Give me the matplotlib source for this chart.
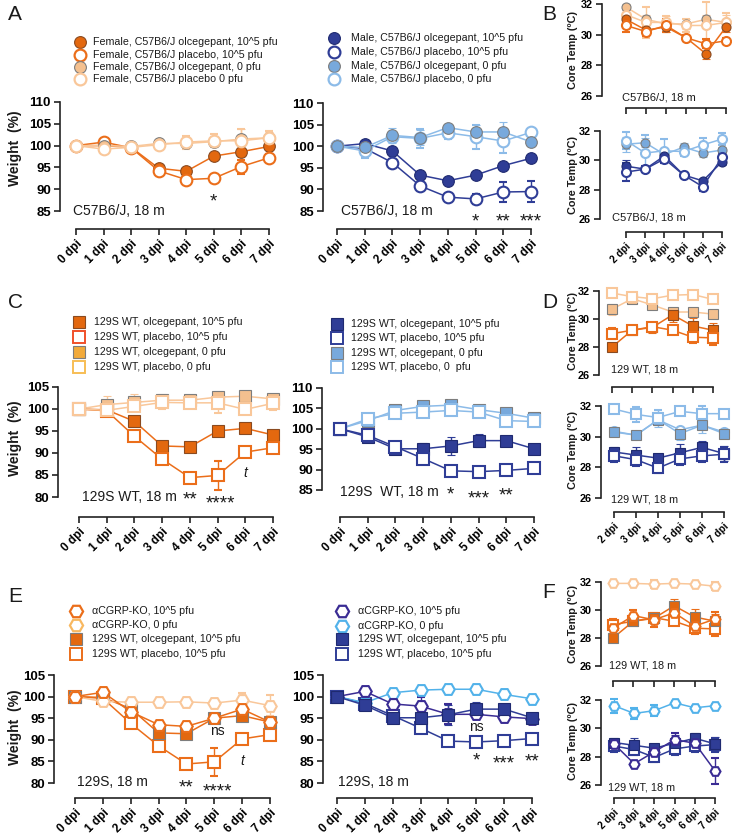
import matplotlib
matplotlib.use('Agg')
import matplotlib.pyplot as plt
from matplotlib.lines import Line2D
from matplotlib import transforms

plt.rcParams['font.family'] = ['Liberation Sans', 'DejaVu Sans']

W, H = 732, 840
fig = plt.figure(figsize=(W / 100, H / 100), dpi=100)

# ---------------- data ----------------
days_w = [0, 1, 2, 3, 4, 5, 6, 7]
days_t = [2, 3, 4, 5, 6, 7]
w_labels = ['0 dpi', '1 dpi', '2 dpi', '3 dpi', '4 dpi', '5 dpi', '6 dpi', '7 dpi']
t_labels = ['2 dpi', '3 dpi', '4 dpi', '5 dpi', '6 dpi', '7 dpi']

# A: C57B6/J weights
fem_olc = [100, 100, 99.6, 94.8, 94.1, 97.6, 98.6, 99.8]
fem_olc_e = [0, 0.3, 0.3, 0.5, 0.6, 0.5, 0.9, 0.6]
fem_pla = [100, 100.8, 99.5, 94.2, 92.2, 92.5, 95.2, 97.2]
fem_pla_e = [0, 0.3, 0.3, 0.5, 0.5, 0.6, 1.6, 0.8]
fem_olc0 = [100, 100, 99.8, 100.5, 100.5, 100.9, 101.5, 101.8]
fem_olc0_e = [0, 0.3, 0.3, 0.4, 0.8, 1.2, 2.4, 1.4]
fem_pla0 = [100, 99.2, 99.6, 100.2, 100.8, 101.1, 101.1, 101.8]
fem_pla0_e = [0, 0.4, 0.3, 0.5, 1.5, 1.5, 2.6, 1.6]

mal_olc = [100, 100.6, 98.9, 93.3, 92.0, 93.3, 95.5, 97.2]
mal_olc_e = [0, 0.4, 0.5, 0.5, 0.4, 0.5, 0.5, 0.5]
mal_pla = [100, 99.5, 96.2, 90.8, 88.2, 87.8, 89.4, 89.5]
mal_pla_e = [0, 0.4, 0.4, 0.5, 0.5, 1.2, 2.4, 2.4]
mal_olc0 = [100, 99.7, 102.5, 102.0, 104.3, 103.3, 103.3, 101.0]
mal_olc0_e = [0, 1.5, 1.8, 1.8, 0.8, 1.7, 2.2, 0.5]
mal_pla0 = [100, 98.9, 102.2, 101.8, 103.1, 102.2, 101.2, 103.2]
mal_pla0_e = [0, 1.6, 1.0, 2.2, 1.5, 2.8, 2.8, 0.5]

# B: C57B6/J core temps
fT_olc = [31.0, 30.3, 30.5, 29.8, 28.75, 30.5]
fT_olc_e = [0.3, 0.3, 0.3, 0.2, 0.35, 0.3]
fT_pla = [30.6, 30.2, 30.6, 29.8, 29.4, 29.6]
fT_pla_e = [0.4, 0.3, 0.4, 0.2, 0.3, 0.2]
fT_olc0 = [31.8, 31.0, 30.7, 30.7, 31.0, 30.8]
fT_olc0_e = [0.2, 0.3, 0.5, 0.3, 0.3, 0.5]
fT_pla0 = [31.3, 30.8, 30.8, 30.6, 30.6, 30.8]
fT_pla0_e = [0.4, 1.0, 0.4, 0.4, 1.5, 0.6]

mT_olc = [29.6, 29.4, 30.3, 29.0, 28.6, 29.9]
mT_olc_e = [0.4, 0.2, 0.3, 0.2, 0.2, 0.2]
mT_pla = [29.2, 29.4, 30.1, 29.0, 28.2, 30.2]
mT_pla_e = [0.6, 0.2, 0.3, 0.2, 0.3, 0.3]
mT_olc0 = [31.1, 31.2, 30.4, 30.9, 30.5, 30.7]
mT_olc0_e = [0.5, 0.3, 0.3, 0.3, 0.3, 0.2]
mT_pla0 = [31.35, 30.5, 30.65, 30.6, 31.05, 31.45]
mT_pla0_e = [0.6, 1.2, 0.8, 0.3, 0.5, 0.4]

# C: 129S WT weights
wf_olc = [100, 99.8, 97.2, 91.6, 91.4, 95.0, 95.6, 94.1]
wf_olc_e = [0, 0.4, 0.6, 0.6, 0.5, 0.5, 0.5, 0.5]
wf_pla = [100, 99.6, 93.8, 88.6, 84.4, 84.9, 90.2, 91.2]
wf_pla_e = [0, 0.4, 0.5, 0.5, 0.6, 3.2, 0.5, 0.6]
wf_olc0 = [100, 101.0, 101.5, 102.0, 102.0, 102.7, 102.9, 102.3]
wf_olc0_e = [0, 2.0, 2.0, 1.5, 0.8, 1.5, 0.6, 0.8]
wf_pla0 = [100, 99.7, 100.6, 101.5, 101.4, 101.4, 99.9, 101.3]
wf_pla0_e = [0, 0.5, 1.0, 1.5, 0.8, 2.2, 0.8, 1.5]

wm_olc = [100, 98.0, 95.1, 95.1, 95.8, 97.1, 97.1, 95.1]
wm_olc_e = [0, 0.6, 1.0, 1.5, 2.3, 1.6, 0.5, 0.4]
wm_pla = [100, 98.4, 95.6, 92.7, 89.7, 89.5, 89.8, 90.3]
wm_pla_e = [0, 0.4, 0.5, 0.5, 0.5, 0.5, 0.5, 0.5]
wm_olc0 = [100, 102.0, 104.5, 105.5, 105.8, 104.7, 103.8, 102.6]
wm_olc0_e = [0, 0.5, 0.5, 0.5, 0.5, 0.5, 0.5, 0.5]
wm_pla0 = [100, 102.4, 103.8, 104.1, 104.5, 104.1, 102.0, 101.8]
wm_pla0_e = [0, 0.5, 0.5, 0.5, 0.5, 0.5, 0.5, 0.5]

# D: 129S WT core temps
dT_pla0_f = [31.85, 31.6, 31.45, 31.7, 31.75, 31.4]
dT_pla0_f_e = [0.15, 0.15, 0.15, 0.15, 0.15, 0.15]
dT_olc0_f = [30.7, 31.45, 31.0, 30.5, 30.5, 30.35]
dT_olc0_f_e = [0.4, 0.2, 0.3, 0.3, 0.3, 0.3]
dT_olc_f = [28.0, 29.2, 29.4, 30.3, 29.5, 29.2]
dT_olc_f_e = [0.2, 0.2, 0.4, 0.5, 0.6, 0.5]
dT_pla_f = [28.95, 29.2, 29.45, 29.2, 28.7, 28.65]
dT_pla_f_e = [0.4, 0.2, 0.3, 0.3, 0.4, 0.5]

dT_pla0_m = [31.8, 31.45, 31.25, 31.65, 31.5, 31.5]
dT_pla0_m_e = [0.2, 0.5, 0.5, 0.2, 0.5, 0.2]
dT_olc0_m = [30.3, 30.1, 31.1, 30.2, 30.75, 30.2]
dT_olc0_m_e = [0.2, 0.2, 0.5, 0.4, 0.5, 0.3]
dT_circ_m = [30.35, 30.1, 31.1, 30.45, 30.75, 30.3]
dT_olc_m = [29.0, 28.8, 28.6, 28.95, 29.3, 28.9]
dT_olc_m_e = [0.3, 0.5, 0.3, 0.6, 0.4, 0.5]
dT_pla_m = [28.75, 28.5, 27.95, 28.55, 28.75, 28.85]
dT_pla_m_e = [0.4, 0.4, 0.3, 0.4, 0.4, 0.5]

# E: alphaCGRP-KO weights
ko_f = [100, 101.0, 96.5, 93.5, 93.1, 95.0, 97.1, 94.1]
ko_f_e = [0, 0.4, 0.5, 0.5, 0.5, 0.5, 0.5, 0.5]
ko0_f = [100, 98.9, 98.7, 98.7, 98.8, 98.5, 99.2, 97.9]
ko0_f_e = [0, 0.4, 0.4, 0.4, 0.4, 0.4, 1.6, 2.5]
ko_m = [100, 101.2, 98.3, 97.8, 95.9, 95.9, 95.3, 94.9]
ko_m_e = [0, 0.4, 0.5, 2.0, 2.3, 0.5, 0.5, 0.5]
ko0_m = [100, 98.6, 100.9, 101.5, 101.7, 101.7, 100.5, 99.5]
ko0_m_e = [0, 0.3, 0.3, 0.3, 0.3, 0.3, 0.3, 0.3]

# F: alphaCGRP-KO core temps
koT_f0 = [31.9, 31.9, 31.85, 31.9, 31.85, 31.7]
koT_f0_e = [0.1, 0.1, 0.3, 0.1, 0.1, 0.3]
koT_f = [28.7, 29.6, 29.3, 29.8, 28.85, 29.35]
koT_f_e = [0.4, 0.4, 0.5, 0.4, 0.5, 0.5]
koT_m0 = [31.6, 31.05, 31.25, 31.8, 31.45, 31.6]
koT_m0_e = [0.5, 0.4, 0.4, 0.1, 0.1, 0.1]
koT_m = [28.9, 27.5, 28.35, 29.2, 28.95, 27.0]
koT_m_e = [0.3, 0.2, 0.3, 0.5, 0.3, 0.9]

# ---------------- colours ----------------
OR = '#EB6E1A'
OR_F = '#E3680F'
OR_RED = '#F0502A'
PE = '#F9C79A'
PE_F = '#F4C08F'
GOLD = '#F2AA3A'
NV = '#2F3D96'
LB = '#8CBBE8'
LB_F = '#78A9DC'
IND = '#3A2C94'
SKY = '#52B2EA'
GR = '#7d7d7d'
TXT = '#1a1a1a'


def make_ax(left, right, top, bot, ylim, yticks, x0, x1, xspine, xfirst, xlast,
            xlabels, xfs, yfs, tl=4.5):
    ax = fig.add_axes([left / W, 1 - bot / H, (right - left) / W, (bot - top) / H])
    ax.set_ylim(*ylim)
    s = (x1 - x0) / (xlast - xfirst)
    ax.set_xlim(xfirst - (x0 - left) / s, xlast + (right - x1) / s)
    for sp in ['top', 'right']:
        ax.spines[sp].set_visible(False)
    for sp in ['left', 'bottom']:
        ax.spines[sp].set_linewidth(1.2)
        ax.spines[sp].set_color('#222222')
    ax.spines['left'].set_bounds(*ylim)
    ax.spines['bottom'].set_position(('outward', (xspine - bot) * 0.72))
    ax.spines['bottom'].set_bounds(xfirst, xlast)
    ax.set_yticks(yticks)
    ax.set_yticklabels([str(v) for v in yticks], fontsize=yfs, fontweight='bold')
    ax.set_xticks(list(range(xfirst, xlast + 1)))
    if xlabels:
        ax.set_xticklabels(xlabels, rotation=45, ha='right', rotation_mode='anchor',
                           fontsize=xfs, fontweight='bold')
    else:
        ax.set_xticklabels([])
    ax.tick_params(width=1.2, length=tl, color='#222222', pad=2)
    ax.patch.set_alpha(0)
    return ax


def series(ax, x, y, e, marker, mfc, mec, lc, ms, mew=1.5, lw=1.1, z=3):
    c = ax.errorbar(x, y, yerr=e, color=lc, marker=marker, mfc=mfc, mec=mec, ms=ms,
                    mew=mew, lw=lw, capsize=2.8, elinewidth=1.0, capthick=1.0, zorder=z)
    for a in c.get_children():
        a.set_clip_on(False)
    c.lines[0].set_clip_on(False)


def ftext(x, y, s, **kw):
    fig.text(x / W, 1 - y / H, s, **kw)


def star(ax, x, yc, s, fs=13.5):
    tr = transforms.offset_copy(ax.transData, fig=fig, x=0, y=-0.58 * fs, units='points')
    ax.text(x, yc, s, transform=tr, ha='center', va='baseline', fontsize=fs, color=TXT,
            clip_on=False)


def small(ax, x, yc, s, fs=10, style='normal'):
    tr = transforms.offset_copy(ax.transData, fig=fig, x=0, y=-0.3 * fs, units='points')
    ax.text(x, yc, s, transform=tr, ha='center', va='baseline', fontsize=fs, color=TXT,
            style=style, clip_on=False)


def legend(xm, xt, ys, entries, fs=7.7):
    for y, (mk, mfc, mec, ms, mew, lab) in zip(ys, entries):
        fig.add_artist(Line2D([xm / W], [1 - y / H], marker=mk, mfc=mfc, mec=mec, ms=ms,
                              mew=mew, ls='none', transform=fig.transFigure))
        ftext(xt, y, lab, fontsize=fs, va='center', ha='left', color=TXT)


CMS = 8.4   # weight circle size
SMS = 8.0   # weight square size
HMS = 9.0   # weight hexagon size
TMS = 6.5   # temp marker size
THS = 7.2   # temp hexagon size
WY = 9.5    # weight tick label size
WX = 8.5    # weight x tick label size
TY = 7.8    # temp tick label size
TX = 7.2    # temp x tick label size

# ================= Panel A =================
axA1 = make_ax(60, 278, 102, 211, (85, 110), [85, 90, 95, 100, 105, 110],
               76, 269, 229, 0, 7, w_labels, WX, WY)
series(axA1, days_w, fem_olc, fem_olc_e, 'o', OR_F, '#8a4a20', OR, CMS, 0.8)
series(axA1, days_w, fem_pla, fem_pla_e, 'o', 'white', OR, OR, CMS)
series(axA1, days_w, fem_olc0, fem_olc0_e, 'o', PE_F, GR, PE, CMS, 0.8)
series(axA1, days_w, fem_pla0, fem_pla0_e, 'o', 'white', PE, PE, CMS)
star(axA1, 5, 88.6, '*')

axA2 = make_ax(323, 540, 103, 211, (85, 110), [85, 90, 95, 100, 105, 110],
               337, 531, 229, 0, 7, w_labels, WX, WY)
series(axA2, days_w, mal_olc, mal_olc_e, 'o', NV, '#1f2a70', NV, CMS, 0.8)
series(axA2, days_w, mal_pla, mal_pla_e, 'o', 'white', NV, NV, CMS)
series(axA2, days_w, mal_pla0, mal_pla0_e, 'o', 'white', LB, LB, CMS)
series(axA2, days_w, mal_olc0, mal_olc0_e, 'o', LB_F, GR, LB, CMS, 0.8)
star(axA2, 5, 84, '*')
star(axA2, 6, 84, '**')
star(axA2, 7, 84, '***')

ftext(73, 211, 'C57B6/J, 18 m', fontsize=10, va='center', color=TXT)
ftext(341, 211, 'C57B6/J, 18 m', fontsize=10, va='center', color=TXT)

legend(80, 93, [42, 55, 67, 79], [
    ('o', OR_F, '#8a4a20', 8.5, 0.8, 'Female, C57B6/J olcegepant, 10^5 pfu'),
    ('o', 'white', OR, 8.5, 1.6, 'Female, C57B6/J placebo, 10^5 pfu'),
    ('o', PE_F, GR, 8.5, 0.8, 'Female, C57B6/J olcegepant, 0 pfu'),
    ('o', 'white', PE, 8.5, 1.6, 'Female, C57B6/J placebo 0 pfu')])
legend(334, 351, [38, 52, 66, 79], [
    ('o', NV, '#1f2a70', 8.5, 0.8, 'Male, C57B6/J olcegepant, 10^5 pfu'),
    ('o', 'white', NV, 8.5, 1.6, 'Male, C57B6/J placebo, 10^5 pfu'),
    ('o', LB_F, GR, 8.5, 0.8, 'Male, C57B6/J olcegepant, 0 pfu'),
    ('o', 'white', LB, 8.5, 1.6, 'Male, C57B6/J placebo, 0 pfu')])

# ================= Panel B =================
axB1 = make_ax(602, 730, 4, 96, (26, 32), [26, 28, 30, 32],
               626, 726, 108, 2, 7, None, TX, TY)
series(axB1, days_t, fT_olc0, fT_olc0_e, 'o', PE_F, GR, PE, TMS, 0.8)
series(axB1, days_t, fT_pla0, fT_pla0_e, 'o', 'white', PE, PE, TMS)
series(axB1, days_t, fT_olc, fT_olc_e, 'o', OR_F, '#8a4a20', OR, TMS, 0.8)
series(axB1, days_t, fT_pla, fT_pla_e, 'o', 'white', OR, OR, TMS)

axB2 = make_ax(600, 730, 131, 219, (26, 32), [26, 28, 30, 32],
               626, 722, 232, 2, 7, t_labels, TX, TY)
series(axB2, days_t, mT_olc0, mT_olc0_e, 'o', LB_F, GR, LB, TMS, 0.8)
series(axB2, days_t, mT_pla0, mT_pla0_e, 'o', 'white', LB, LB, TMS)
series(axB2, days_t, mT_olc, mT_olc_e, 'o', NV, '#1f2a70', NV, TMS, 0.8)
series(axB2, days_t, mT_pla, mT_pla_e, 'o', 'white', NV, NV, TMS)

ftext(622, 97, 'C57B6/J, 18 m', fontsize=8, va='center', color=TXT)
ftext(612, 218, 'C57B6/J, 18 m', fontsize=8, va='center', color=TXT)

# ================= Panel C =================
axC1 = make_ax(58, 280, 387, 497, (80, 105), [80, 85, 90, 95, 100, 105],
               79, 273, 517, 0, 7, w_labels, WX, WY)
series(axC1, days_w, wf_olc, wf_olc_e, 's', OR_F, '#8a4a20', OR, SMS, 0.8)
series(axC1, days_w, wf_pla, wf_pla_e, 's', 'white', OR, OR, SMS)
series(axC1, days_w, wf_olc0, wf_olc0_e, 's', PE_F, GR, PE, SMS, 0.8)
series(axC1, days_w, wf_pla0, wf_pla0_e, 's', 'white', PE, PE, SMS)
star(axC1, 4, 80.8, '**')
star(axC1, 5.1, 79.8, '****')
small(axC1, 6, 85.6, 't', style='italic')

axC2 = make_ax(322, 540, 388, 490, (85, 110), [85, 90, 95, 100, 105, 110],
               340, 534, 517, 0, 7, w_labels, WX, WY)
series(axC2, days_w, wm_olc0, wm_olc0_e, 's', LB_F, GR, LB, SMS, 0.8)
series(axC2, days_w, wm_pla0, wm_pla0_e, 's', 'white', LB, LB, SMS)
series(axC2, days_w, wm_olc, wm_olc_e, 's', NV, '#1f2a70', NV, SMS, 0.8)
series(axC2, days_w, wm_pla, wm_pla_e, 's', 'white', NV, NV, SMS)
star(axC2, 4, 85.3, '*')
star(axC2, 5, 84.3, '***')
star(axC2, 6, 85.1, '**')

ftext(82, 497, '129S WT, 18 m', fontsize=10, va='center', color=TXT)
ftext(340, 492, '129S  WT, 18 m', fontsize=10, va='center', color=TXT)

legend(79, 94, [322, 337, 352, 367], [
    ('s', OR_F, '#8a4a20', 8.5, 0.8, '129S WT, olcegepant, 10^5 pfu'),
    ('s', 'white', OR_RED, 8.5, 1.4, '129S WT, placebo, 10^5 pfu'),
    ('s', GOLD, GR, 8.5, 0.8, '129S WT, olcegepant, 0 pfu'),
    ('s', 'white', '#F7BE55', 8.5, 1.4, '129S WT, placebo, 0 pfu')])
legend(337, 351, [324, 338, 353, 367], [
    ('s', NV, '#1f2a70', 8.5, 0.8, '129S WT, olcegepant, 10^5 pfu'),
    ('s', 'white', NV, 8.5, 1.4, '129S WT, placebo, 10^5 pfu'),
    ('s', LB_F, GR, 8.5, 0.8, '129S WT, olcegepant, 0 pfu'),
    ('s', 'white', LB, 8.5, 1.4, '129S WT, placebo, 0  pfu')])

# ================= Panel D =================
axD1 = make_ax(599, 720, 291, 375, (26, 32), [26, 28, 30, 32],
               612, 713, 387, 2, 7, None, TX, TY)
series(axD1, days_t, dT_olc0_f, dT_olc0_f_e, 's', PE_F, GR, PE, TMS, 0.8)
series(axD1, days_t, dT_pla0_f, dT_pla0_f_e, 's', 'white', PE, PE, TMS)
series(axD1, days_t, dT_olc_f, dT_olc_f_e, 's', OR_F, '#8a4a20', OR, TMS, 0.8)
series(axD1, days_t, dT_pla_f, dT_pla_f_e, 's', 'white', OR, OR, TMS)

axD2 = make_ax(601, 730, 406, 498, (26, 32), [26, 28, 30, 32],
               614, 724, 512, 2, 7, t_labels, TX, TY)
series(axD2, days_t, dT_circ_m, None, 'o', 'white', LB, LB, TMS)
series(axD2, days_t, dT_olc0_m, dT_olc0_m_e, 's', LB_F, GR, LB, TMS, 0.8)
series(axD2, days_t, dT_pla0_m, dT_pla0_m_e, 's', 'white', LB, LB, TMS)
series(axD2, days_t, dT_olc_m, dT_olc_m_e, 's', NV, '#1f2a70', NV, TMS, 0.8)
series(axD2, days_t, dT_pla_m, dT_pla_m_e, 's', 'white', NV, NV, TMS)

ftext(611, 370, '129 WT, 18 m', fontsize=7.8, va='center', color=TXT)
ftext(611, 499, '129 WT, 18 m', fontsize=7.8, va='center', color=TXT)

# ================= Panel E =================
axE1 = make_ax(54, 278, 675, 783, (80, 105), [80, 85, 90, 95, 100, 105],
               75, 270, 798, 0, 7, w_labels, WX, WY)
series(axE1, days_w, wf_pla, wf_pla_e, 's', 'white', OR, OR, SMS)
series(axE1, days_w, wf_olc, wf_olc_e, 's', OR_F, GR, OR, SMS, 0.8)
series(axE1, days_w, ko0_f, ko0_f_e, 'H', 'white', PE, PE, HMS)
series(axE1, days_w, ko_f, ko_f_e, 'H', 'white', OR, OR, HMS)
small(axE1, 5.1, 92, 'ns')
star(axE1, 4, 80.3, '**')
star(axE1, 5.1, 79.4, '****')
small(axE1, 6, 85.1, 't', style='italic')

axE2 = make_ax(323, 540, 675, 783, (80, 105), [80, 85, 90, 95, 100, 105],
               337, 532, 798, 0, 7, w_labels, WX, WY)
series(axE2, days_w, wm_pla, wm_pla_e, 's', 'white', NV, NV, SMS)
series(axE2, days_w, ko0_m, ko0_m_e, 'H', 'white', SKY, SKY, HMS)
series(axE2, days_w, ko_m, ko_m_e, 'H', 'white', IND, IND, HMS)
series(axE2, days_w, wm_olc, wm_olc_e, 's', NV, '#1f2a70', NV, SMS, 0.8)
small(axE2, 5, 93, 'ns')
star(axE2, 5, 86.6, '*')
star(axE2, 6, 85.8, '***')
star(axE2, 7, 86.4, '**')

ftext(77, 782, '129S, 18 m', fontsize=10, va='center', color=TXT)
ftext(338, 782, '129S, 18 m', fontsize=10, va='center', color=TXT)

legend(76, 92, [611, 625, 639, 654], [
    ('H', 'white', OR, 9.5, 1.6, 'αCGRP-KO, 10^5 pfu'),
    ('H', 'white', '#F8B860', 9.5, 1.6, 'αCGRP-KO, 0 pfu'),
    ('s', OR_F, GR, 8.5, 0.8, '129S WT, olcegepant, 10^5 pfu'),
    ('s', 'white', OR, 8.5, 1.4, '129S WT, placebo, 10^5 pfu')])
legend(342, 358, [611, 626, 639, 654], [
    ('H', 'white', IND, 9.5, 1.6, 'αCGRP-KO, 10^5 pfu'),
    ('H', 'white', SKY, 9.5, 1.6, 'αCGRP-KO, 0 pfu'),
    ('s', NV, '#1f2a70', 8.5, 0.8, '129S WT, olcegepant, 10^5 pfu'),
    ('s', 'white', NV, 8.5, 1.4, '129S WT, placebo, 10^5 pfu')])

# ================= Panel F =================
axF1 = make_ax(601, 722, 582, 666, (26, 32), [26, 28, 30, 32],
               613, 715, 681, 2, 7, None, TX, TY)
series(axF1, days_t, dT_pla_f, dT_pla_f_e, 's', 'white', OR, OR, TMS)
series(axF1, days_t, dT_olc_f, dT_olc_f_e, 's', OR_F, GR, OR, TMS, 0.8)
series(axF1, days_t, koT_f0, koT_f0_e, 'H', 'white', PE, PE, THS)
series(axF1, days_t, koT_f, koT_f_e, 'H', 'white', OR, OR, THS)

axF2 = make_ax(601, 722, 700, 785, (26, 32), [26, 28, 30, 32],
               614, 715, 798, 2, 7, t_labels, TX, TY)
series(axF2, days_t, dT_pla_m, dT_pla_m_e, 's', 'white', NV, NV, TMS)
series(axF2, days_t, dT_olc_m, dT_olc_m_e, 's', NV, '#1f2a70', NV, TMS, 0.8)
series(axF2, days_t, koT_m0, koT_m0_e, 'H', 'white', SKY, SKY, THS)
series(axF2, days_t, koT_m, koT_m_e, 'H', 'white', IND, IND, THS)

ftext(609, 666, '129 WT, 18 m', fontsize=7.8, va='center', color=TXT)
ftext(608, 787, '129 WT, 18 m', fontsize=7.8, va='center', color=TXT)

# ================= axis titles & panel letters =================
for yc in [148, 438, 727]:
    ftext(15, yc, 'Weight  (%)', fontsize=10, fontweight='bold', rotation=90,
          ha='center', va='center', color=TXT)
for yc in [50, 175, 331, 450, 624, 741]:
    ftext(573, yc, 'Core Temp (ºC)', fontsize=7.8, fontweight='bold', rotation=90,
          ha='center', va='center', color=TXT)

for lab, x, y in [('A', 8, 15), ('B', 542, 15), ('C', 8, 302), ('D', 542, 302),
                  ('E', 8, 596), ('F', 542, 592)]:
    ftext(x, y, lab, fontsize=15, ha='left', va='center', color=TXT)

fig.savefig('out.png', dpi=100)
